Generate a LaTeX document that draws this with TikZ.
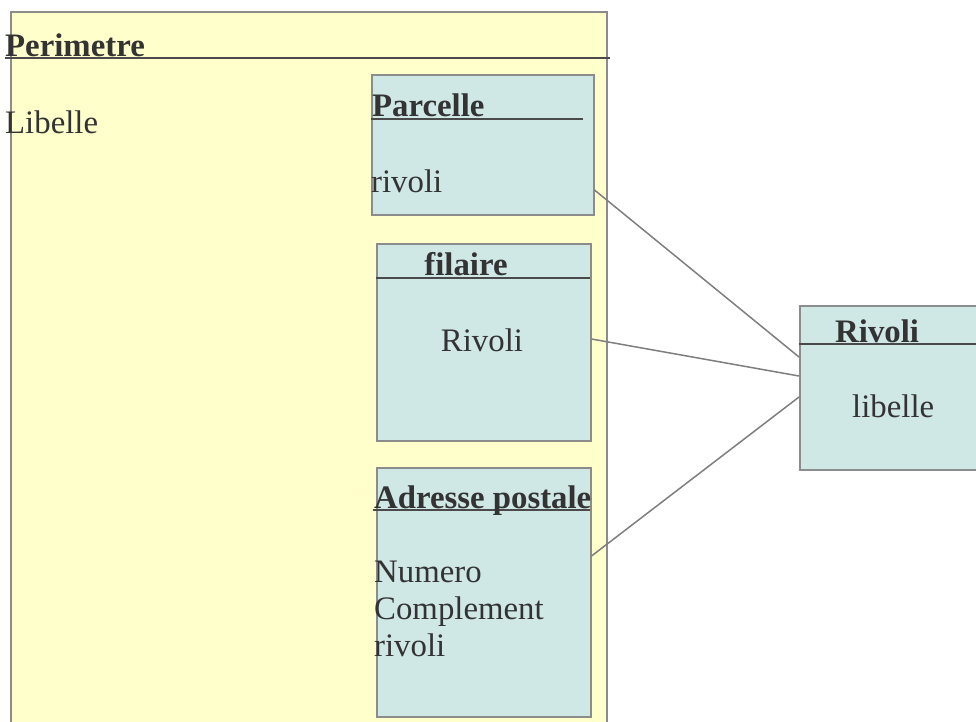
\documentclass[tikz,border=0pt]{standalone}
\usepackage{fontspec}
\setmainfont{Liberation Serif}
\usetikzlibrary{calc}
\definecolor{perimfill}{HTML}{FFFFCC}
\definecolor{classfill}{HTML}{CFE7E5}
\definecolor{classline}{HTML}{8C8C8C}
\definecolor{headline}{HTML}{4A4A4A}
\definecolor{classtext}{HTML}{333333}
\tikzset{
  box/.style={draw=classline, line width=1.5pt, inner sep=0pt, anchor=north west},
  perimbox/.style={box, fill=perimfill},
  classbox/.style={box, fill=classfill},
  header/.style={draw=headline, line width=2pt},
  link/.style={draw=classline!90!black, line width=1.5pt},
  lbl/.style={anchor=base west, inner sep=0pt, text=classtext,
    font=\fontsize{32.8}{37}\selectfont},
  title/.style={lbl, font=\fontsize{32.8}{37}\selectfont\bfseries}
}
\begin{document}
\begin{tikzpicture}[x=1pt,y=-1pt]
  \useasboundingbox (0,0) rectangle (976,721);
  % boxes
  \node[perimbox, minimum width=596, minimum height=730] (perimetre) at (10,11) {};
  \node[classbox, minimum width=222, minimum height=140] (parcelle) at (371,74) {};
  \node[classbox, minimum width=214, minimum height=197] (filaire) at (376,243) {};
  \node[classbox, minimum width=214, minimum height=249] (adresse) at (376,467) {};
  \node[classbox, minimum width=190, minimum height=164] (rivoli) at (799,305) {};
  % header lines
  \draw[header] (5,58) -- (610,58);
  \draw[header] (371,119) -- (583,119);
  \draw[header] (376,278) -- (590,278);
  \draw[header] (373,510) -- (590,510);
  \draw[header] (799,344) -- (985,344);
  % texts
  \node[title] (perimetre title) at (5,56) {Perimetre};
  \node[lbl] (perimetre libelle) at (5,133) {Libelle};
  \node[title] (parcelle title) at (372,116) {Parcelle};
  \node[lbl] (parcelle rivoli) at (371,192) {rivoli};
  \node[title, anchor=base] (filaire title) at (466,275) {filaire};
  \node[lbl, anchor=base] (filaire rivoli) at (482,351) {Rivoli};
  \node[title] (adresse title) at (374,508) {Adresse postale};
  \node[lbl] (adresse numero) at (374,582) {Numero};
  \node[lbl] (adresse complement) at (374,619) {Complement};
  \node[lbl] (adresse rivoli) at (374,656) {rivoli};
  \node[title] (rivoli title) at (835,342) {Rivoli};
  \node[lbl] (rivoli libelle) at (852,417) {libelle};
  % connectors
  \begin{scope}[link]
    \draw ($(parcelle.north east)+(0,116)$) -- ($(rivoli.north west)+(0,52)$);
    \draw ($(filaire.north east)+(0,96)$) -- ($(rivoli.north west)+(0,71)$);
    \draw ($(adresse.north east)+(0,89)$) -- ($(rivoli.north west)+(0,92)$);
  \end{scope}
\end{tikzpicture}
\end{document}
